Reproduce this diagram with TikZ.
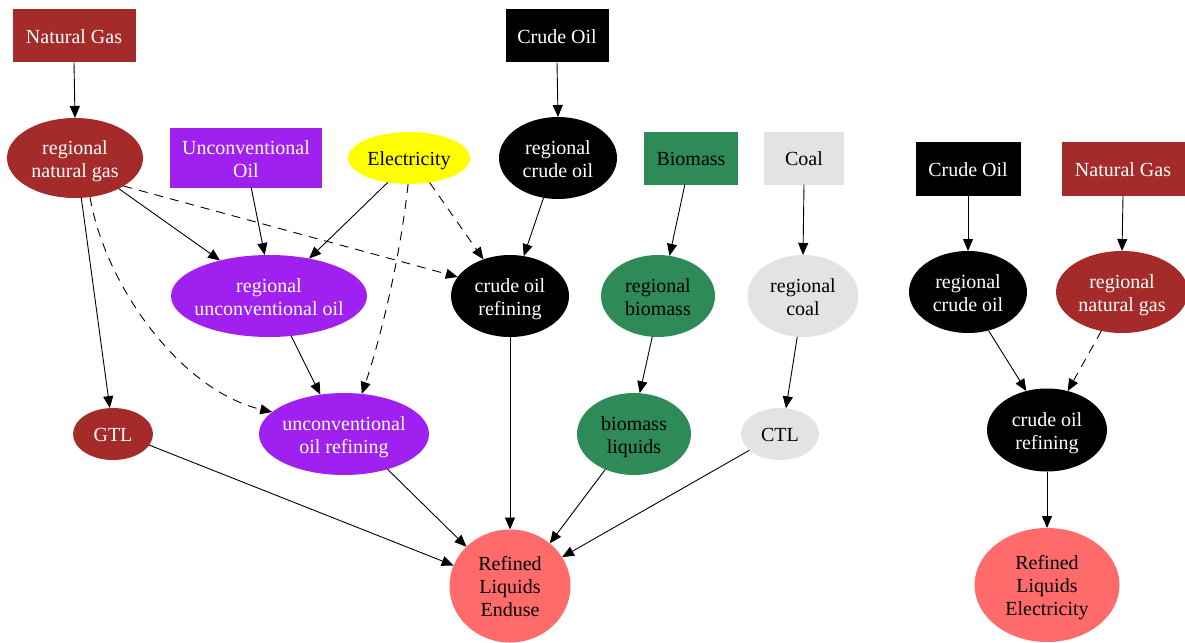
\documentclass[tikz,border=0pt]{standalone}
\usepackage{fontspec}
\setmainfont{Liberation Serif}
\usetikzlibrary{shapes.geometric,arrows.meta}
\definecolor{gvbrown}{HTML}{A52A2A}
\definecolor{gvpurple}{HTML}{A020F0}
\definecolor{gvgreen}{HTML}{2E8B57}
\definecolor{gvgray}{HTML}{E3E3E3}
\definecolor{gvsalmon}{HTML}{FF6A6A}
\definecolor{gvyellow}{HTML}{FFFF00}
\newcommand\ml[1]{\raisebox{-3pt}[\height][\depth]{\makebox[0pt]{\begin{tabular}{@{}c@{}}#1\end{tabular}}}}
\begin{document}
\begin{tikzpicture}[x=1pt,y=-1pt,
  every node/.style={font=\fontsize{20}{23}\selectfont, inner sep=0pt, outer sep=0pt},
  box/.style={rectangle},
  ell/.style={ellipse},
  brownn/.style={fill=gvbrown, text=white},
  purplen/.style={fill=gvpurple, text=white},
  blackn/.style={fill=black, text=white},
  greenn/.style={fill=gvgreen, text=black},
  grayn/.style={fill=gvgray, text=black},
  yellown/.style={fill=gvyellow, text=black},
  salmonn/.style={fill=gvsalmon, text=black},
  sz/.style 2 args={minimum width=#1pt, minimum height=#2pt},
  edge/.style={draw, line width=0.9pt, -{Triangle[length=12pt,width=10pt]}},
  dashedge/.style={edge, dash pattern=on 9pt off 7pt}
]
\useasboundingbox[fill=white] (0,0) rectangle (1185,642);

% left cluster
\node[box, brownn, sz={123}{53}] (ng) at (74,36) {\ml{Natural Gas}};
\node[box, blackn, sz={103}{53}] (co) at (557,36) {\ml{Crude Oil}};
\node[ell, brownn, sz={136}{80}] (rng) at (75,158) {\ml{regional\\natural gas}};
\node[box, purplen, sz={152}{60}] (uo) at (246,158) {\ml{Unconventional\\Oil}};
\node[ell, yellown, sz={122}{52}] (el) at (409,158) {\ml{Electricity}};
\node[ell, blackn, sz={118}{82}] (rco) at (558,158) {\ml{regional\\crude oil}};
\node[box, greenn, sz={94}{53}] (bio) at (691,158) {\ml{Biomass}};
\node[box, grayn, sz={80}{53}] (coal) at (804,158) {\ml{Coal}};
\node[ell, purplen, sz={196}{82}] (runc) at (269,296) {\ml{regional\\unconventional oil}};
\node[ell, blackn, sz={118}{82}] (cor) at (510,296) {\ml{crude oil\\refining}};
\node[ell, greenn, sz={114}{82}] (rbio) at (658,296) {\ml{regional\\biomass}};
\node[ell, grayn, sz={111}{82}] (rcoal) at (803,296) {\ml{regional\\coal}};
\node[ell, brownn, sz={80}{52}] (gtl) at (113,434) {\ml{GTL}};
\node[ell, purplen, sz={170}{82}] (uor) at (344,434) {\ml{unconventional\\oil refining}};
\node[ell, greenn, sz={114}{82}] (bliq) at (634,434) {\ml{biomass\\liquids}};
\node[ell, grayn, sz={78}{52}] (ctl) at (780,434) {\ml{CTL}};
\node[ell, salmonn, sz={121}{113}] (rle) at (510,586) {\ml{Refined\\Liquids\\Enduse}};

% right cluster
\node[box, blackn, sz={105}{54}] (co2) at (968,169) {\ml{Crude Oil}};
\node[box, brownn, sz={123}{54}] (ng2) at (1123,169) {\ml{Natural Gas}};
\node[ell, blackn, sz={118}{82}] (rco2) at (968,292) {\ml{regional\\crude oil}};
\node[ell, brownn, sz={132}{82}] (rng2) at (1122,292) {\ml{regional\\natural gas}};
\node[ell, blackn, sz={120}{83}] (cor2) at (1047,430) {\ml{crude oil\\refining}};
\node[ell, salmonn, sz={145}{114}] (rle2) at (1047,585) {\ml{Refined\\Liquids\\Electricity}};

% edges left
\draw[edge] (ng.south) -- (rng.north);
\draw[edge] (co.south) -- (rco.north);
\draw[edge] (rng.-35) -- (runc.144);
\draw[dashedge] (rng.-30) -- (cor.160);
\draw[edge] (rng.-81) -- (gtl.97);
\draw[dashedge] (rng.-69) .. controls (105,285) and (180,390) .. (uor.163);
\draw[edge] (uo.-80.5) -- (runc.96);
\draw[edge] (el.229) -- (runc.43.5);
\draw[dashedge] (el.268) .. controls (400,260) and (380,340) .. (uor.66);
\draw[dashedge] (el.-50) -- (cor.126);
\draw[edge] (rco.250) -- (cor.71);
\draw[edge] (bio.-103) -- (rbio.74);
\draw[edge] (coal.south) -- (rcoal.north);
\draw[edge] (runc.-61) -- (uor.121);
\draw[edge] (rbio.262) -- (bliq.82);
\draw[edge] (rcoal.262) -- (ctl.77);
\draw[edge] (gtl.-17) -- (rle.160);
\draw[edge] (uor.-39.5) -- (rle.138);
\draw[edge] (cor.south) -- (rle.north);
\draw[edge] (bliq.231) -- (rle.47.5);
\draw[edge] (ctl.208) -- (rle.29);

% edges right
\draw[edge] (co2.south) -- (rco2.north);
\draw[edge] (ng2.south) -- (rng2.north);
\draw[edge] (rco2.-62) -- (cor2.118);
\draw[dashedge] (rng2.242) -- (cor2.62);
\draw[edge] (cor2.south) -- (rle2.north);
\end{tikzpicture}
\end{document}
